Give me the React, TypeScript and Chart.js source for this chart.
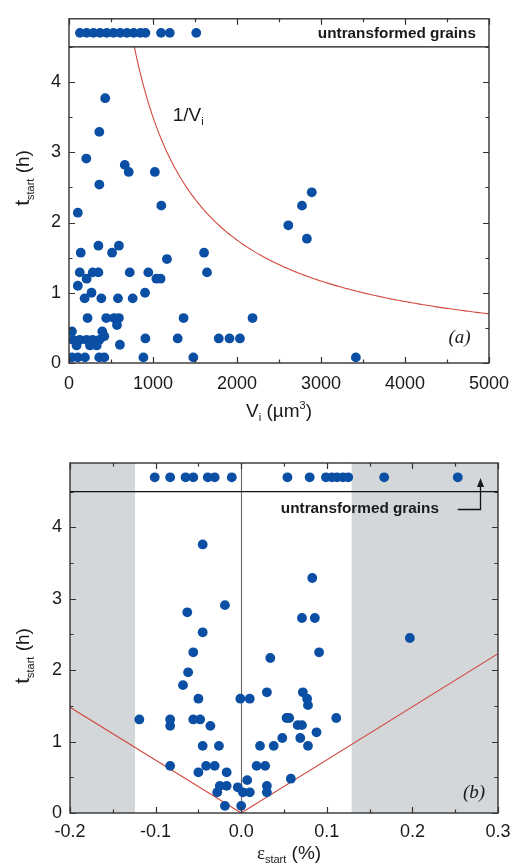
import React, { useEffect, useRef } from "react";
import { Chart, registerables } from "chart.js";

Chart.register(...registerables);

// ---------- panel (a): grain volume vs. start time ----------
const volumeV: number[] = [
  431, 361, 206, 664, 711, 1022, 361, 105, 1099, 140, 350, 513, 594, 1166, 1608, 1643,
  128, 283, 350, 210, 105, 268, 723, 944, 1040, 1090, 905, 186, 385, 583, 758, 221,
  443, 536, 594, 571, 1364, 2185, 35, 396, 47, 128, 210, 280, 361, 420, 90, 250,
  330, 606, 909, 1294, 1783, 1911, 2035, 35, 105, 190, 360, 420, 886, 1480, 3415, 2890,
  2774, 2611, 2832,
];
const volumeT: number[] = [
  3.77, 3.29, 2.91, 2.82, 2.72, 2.72, 2.54, 2.14, 2.24, 1.57, 1.67, 1.57, 1.67, 1.48, 1.57, 1.29,
  1.29, 1.29, 1.29, 1.2, 1.1, 1.0, 1.29, 1.29, 1.2, 1.2, 1.0, 0.92, 0.92, 0.92, 0.92, 0.64,
  0.64, 0.64, 0.64, 0.54, 0.64, 0.64, 0.45, 0.45, 0.33, 0.33, 0.33, 0.33, 0.33, 0.38, 0.25, 0.25,
  0.25, 0.26, 0.35, 0.35, 0.35, 0.35, 0.35, 0.08, 0.08, 0.08, 0.08, 0.08, 0.08, 0.08, 0.08, 2.43,
  2.24, 1.96, 1.77,
];
// grains that never transformed, plotted in the strip above t = 4.5 h
const volumeUntransformed: number[] = [
  130, 210, 290, 370, 450, 530, 610, 690, 770, 850, 910, 1096, 1200, 1515,
];
const volumeTicks: number[] = [0, 1000, 2000, 3000, 4000, 5000];
// 1/V_i guide curve: t = INVERSE_C / V
const INVERSE_C = 3500;

// ---------- panel (b): strain vs. start time ----------
const strainE: number[] = [
  -0.045, -0.063, -0.019, -0.045, -0.056, 0.083, 0.071, 0.086, 0.197, 0.091, 0.034, -0.062,
  -0.068, -0.05, -0.119, -0.083, -0.083, -0.056, -0.048, -0.036, -0.045, -0.026, -0.083, -0.05,
  -0.041, -0.031, -0.017, -0.025, -0.017, -0.028, -0.019, 0.0, -0.004, 0.007, 0.002, 0.01,
  -0.001, 0.01, 0.022, 0.018, 0.028, 0.03, 0.072, 0.077, 0.078, 0.053, 0.056, 0.066,
  0.071, 0.088, 0.111, 0.048, 0.069, 0.038, 0.078, 0.058, 0.03, 0.03,
];
const strainT: number[] = [
  3.76, 2.81, 2.91, 2.53, 2.25, 3.29, 2.73, 2.73, 2.45, 2.25, 2.17, 1.97,
  1.79, 1.6, 1.31, 1.31, 1.22, 1.31, 1.31, 1.22, 0.94, 0.94, 0.66, 0.57,
  0.66, 0.66, 0.57, 0.38, 0.38, 0.29, 0.1, 0.1, 0.36, 0.46, 0.29, 0.29,
  1.6, 1.6, 0.94, 0.66, 0.66, 1.69, 1.69, 1.6, 1.51, 1.33, 1.33, 1.23,
  1.23, 1.13, 1.33, 1.05, 1.05, 0.94, 0.94, 0.48, 0.38, 0.29,
];
const strainUntransformed: number[] = [
  -0.101, -0.083, -0.065, -0.056, -0.039, -0.031, -0.011, 0.054, 0.08, 0.099, 0.106, 0.112,
  0.119, 0.125, 0.167, 0.253,
];
const strainTicks: number[] = [-0.2, -0.1, 0.0, 0.1, 0.2, 0.3];
const strainTickLabels: string[] = ["-0.2", "-0.1", "0.0", "0.1", "0.2", "0.3"];
// V-shaped boundary line
const boundaryE: number[] = [-0.2, 0.0, 0.3];
const boundaryT: number[] = [1.48, 0.0, 2.23];
// shaded strain ranges
const shadedRanges: [number, number][] = [
  [-0.2, -0.124],
  [0.129, 0.3],
];

// ---------- shared ----------
const timeTicks: number[] = [0, 1, 2, 3, 4];
const UNTRANSFORMED_T = 4.7;
const STRIP_T = 4.5;
const T_MAX = 4.9;

const DOT = "#0b4fa4";
const RED = "#d2493f";
const AXIS = "#333333";
const SANS = "'Liberation Sans', Arial, sans-serif";
const SERIF = "'Liberation Serif', 'Times New Roman', serif";

type Seg = { text: string; font: string; dy?: number };

function drawSegments(ctx: CanvasRenderingContext2D, segs: Seg[], x: number, y: number, align: "left" | "center" | "right") {
  let total = 0;
  const widths = segs.map((s) => {
    ctx.font = s.font;
    const w = ctx.measureText(s.text).width;
    total += w;
    return w;
  });
  let cx = align === "left" ? x : align === "center" ? x - total / 2 : x - total;
  ctx.textBaseline = "alphabetic";
  ctx.textAlign = "left";
  segs.forEach((s, i) => {
    ctx.font = s.font;
    ctx.fillText(s.text, cx, y + (s.dy || 0));
    cx += widths[i];
  });
}

function framePlugin(xMin: number, xMax: number, xStep: number) {
  return {
    id: "frameTicks",
    afterDatasetsDraw(chart: any) {
      const { ctx, chartArea, scales } = chart;
      const { left, right, top, bottom } = chartArea;
      const x = scales.x;
      const y = scales.y;
      ctx.save();
      ctx.strokeStyle = AXIS;
      ctx.lineWidth = 1.4;
      ctx.strokeRect(left, top, right - left, bottom - top);
      // divider of the untransformed strip
      const ys = y.getPixelForValue(STRIP_T);
      ctx.strokeStyle = "#111";
      ctx.lineWidth = 1.2;
      ctx.beginPath();
      ctx.moveTo(left, ys);
      ctx.lineTo(right, ys);
      ctx.stroke();
      // inward tick marks
      ctx.strokeStyle = AXIS;
      ctx.lineWidth = 1.2;
      ctx.beginPath();
      const nX = Math.round((xMax - xMin) / (xStep / 2));
      for (let i = 0; i <= nX; i++) {
        const v = xMin + (i * xStep) / 2;
        const px = Math.round(x.getPixelForValue(v)) + 0.5;
        const len = i % 2 === 0 ? 6 : 3.5;
        ctx.moveTo(px, bottom);
        ctx.lineTo(px, bottom - len);
        ctx.moveTo(px, top);
        ctx.lineTo(px, top + len);
      }
      for (let i = 0; i <= 9; i++) {
        const v = i * 0.5;
        const py = Math.round(y.getPixelForValue(v)) + 0.5;
        const len = i % 2 === 0 ? 6 : 3.5;
        ctx.moveTo(left, py);
        ctx.lineTo(left + len, py);
        ctx.moveTo(right, py);
        ctx.lineTo(right - len, py);
      }
      ctx.stroke();
      ctx.restore();
    },
  };
}

function timeTitle(ctx: CanvasRenderingContext2D, cx: number, cy: number) {
  ctx.save();
  ctx.fillStyle = "#1a1a1a";
  ctx.translate(cx, cy);
  ctx.rotate(-Math.PI / 2);
  drawSegments(
    ctx,
    [
      { text: "t", font: `21px ${SANS}` },
      { text: "start", font: `11px ${SANS}`, dy: 5 },
      { text: " (h)", font: `19px ${SANS}` },
    ],
    0,
    7,
    "center"
  );
  ctx.restore();
}

const basePoint = {
  pointRadius: 4.9,
  pointHoverRadius: 4.9,
  pointBorderWidth: 0,
  backgroundColor: DOT,
  borderColor: DOT,
  showLine: false,
};

function buildVolumeChart(canvas: HTMLCanvasElement) {
  const main = volumeV.map((v, i) => ({ x: v, y: volumeT[i] }));
  const top = volumeUntransformed.map((v) => ({ x: v, y: UNTRANSFORMED_T }));
  const curve: { x: number; y: number }[] = [];
  for (let v = INVERSE_C / STRIP_T; v <= 5000; v += 20) curve.push({ x: v, y: INVERSE_C / v });
  curve.push({ x: 5000, y: INVERSE_C / 5000 });

  const labels = {
    id: "volumeLabels",
    afterDraw(chart: any) {
      const { ctx, scales } = chart;
      const x = scales.x;
      const y = scales.y;
      ctx.save();
      ctx.fillStyle = "#1a1a1a";
      drawSegments(ctx, [{ text: "untransformed grains", font: `bold 15.3px ${SANS}` }], x.getPixelForValue(4845), y.getPixelForValue(4.62), "right");
      drawSegments(
        ctx,
        [
          { text: "1/V", font: `19px ${SANS}` },
          { text: "i", font: `11px ${SANS}`, dy: 4 },
        ],
        x.getPixelForValue(1235),
        y.getPixelForValue(3.45),
        "left"
      );
      drawSegments(ctx, [{ text: "(a)", font: `italic 19px ${SERIF}` }], x.getPixelForValue(4650), y.getPixelForValue(0.28), "center");
      // axis titles
      timeTitle(ctx, 22, 178);
      drawSegments(
        ctx,
        [
          { text: "V", font: `19px ${SANS}` },
          { text: "i", font: `11px ${SANS}`, dy: 4 },
          { text: " (\u00b5m", font: `19px ${SANS}` },
          { text: "3", font: `11px ${SANS}`, dy: -8 },
          { text: ")", font: `19px ${SANS}` },
        ],
        279,
        417,
        "center"
      );
      ctx.restore();
    },
  };

  return new Chart(canvas, {
    type: "scatter",
    data: {
      datasets: [
        { ...basePoint, data: main },
        { ...basePoint, data: top },
        {
          data: curve,
          showLine: true,
          borderColor: RED,
          borderWidth: 1.1,
          pointRadius: 0,
          pointHoverRadius: 0,
          fill: false,
        },
      ],
    },
    options: {
      responsive: false,
      animation: false,
      events: [],
      layout: { padding: { left: 0, right: 21, top: 15, bottom: 0 } },
      plugins: { legend: { display: false }, tooltip: { enabled: false } },
      scales: {
        x: {
          type: "linear",
          min: 0,
          max: 5000,
          grid: { display: false, drawTicks: false },
          border: { display: false },
          afterBuildTicks: (s: any) => {
            s.ticks = volumeTicks.map((v) => ({ value: v }));
          },
          afterFit: (s: any) => {
            s.height = 69;
          },
          ticks: { padding: 10, color: "#1a1a1a", font: { family: SANS, size: 18 }, maxRotation: 0, autoSkip: false, callback: (v: any) => String(v) },
        },
        y: {
          type: "linear",
          min: 0,
          max: T_MAX,
          grid: { display: false, drawTicks: false },
          border: { display: false },
          afterBuildTicks: (s: any) => {
            s.ticks = timeTicks.map((v) => ({ value: v }));
          },
          afterFit: (s: any) => {
            s.width = 69;
          },
          ticks: { padding: 8, color: "#1a1a1a", font: { family: SANS, size: 18 }, callback: (v: any) => String(v) },
        },
      },
    },
    plugins: [framePlugin(0, 5000, 1000), labels],
  } as any);
}

function buildStrainChart(canvas: HTMLCanvasElement) {
  const main = strainE.map((e, i) => ({ x: e, y: strainT[i] }));
  const top = strainUntransformed.map((e) => ({ x: e, y: UNTRANSFORMED_T }));
  const boundary = boundaryE.map((e, i) => ({ x: e, y: boundaryT[i] }));

  const background = {
    id: "strainBackground",
    beforeDatasetsDraw(chart: any) {
      const { ctx, chartArea, scales } = chart;
      const x = scales.x;
      ctx.save();
      ctx.fillStyle = "#d3d7da";
      shadedRanges.forEach(([a, b]) => {
        const x0 = x.getPixelForValue(a);
        const x1 = x.getPixelForValue(b);
        ctx.fillRect(x0, chartArea.top, x1 - x0, chartArea.bottom - chartArea.top);
      });
      const x0 = Math.round(x.getPixelForValue(0)) + 0.5;
      ctx.strokeStyle = "#666";
      ctx.lineWidth = 1.1;
      ctx.beginPath();
      ctx.moveTo(x0, chartArea.top);
      ctx.lineTo(x0, chartArea.bottom);
      ctx.stroke();
      ctx.restore();
    },
  };

  const labels = {
    id: "strainLabels",
    afterDraw(chart: any) {
      const { ctx, scales } = chart;
      const x = scales.x;
      const y = scales.y;
      ctx.save();
      ctx.fillStyle = "#1a1a1a";
      drawSegments(ctx, [{ text: "untransformed grains", font: `bold 15.3px ${SANS}` }], x.getPixelForValue(0.231), y.getPixelForValue(4.2), "right");
      // arrow pointing to the untransformed strip
      const ax0 = x.getPixelForValue(0.253);
      const ax1 = Math.round(x.getPixelForValue(0.279)) + 0.5;
      const ay = Math.round(y.getPixelForValue(4.26)) + 0.5;
      const tip = y.getPixelForValue(4.69);
      ctx.strokeStyle = "#111";
      ctx.lineWidth = 1.3;
      ctx.beginPath();
      ctx.moveTo(ax0, ay);
      ctx.lineTo(ax1, ay);
      ctx.lineTo(ax1, tip + 6);
      ctx.stroke();
      ctx.beginPath();
      ctx.moveTo(ax1, tip);
      ctx.lineTo(ax1 - 3.5, tip + 9);
      ctx.lineTo(ax1 + 3.5, tip + 9);
      ctx.closePath();
      ctx.fill();
      drawSegments(ctx, [{ text: "(b)", font: `italic 19px ${SERIF}` }], x.getPixelForValue(0.272), y.getPixelForValue(0.21), "center");
      // axis titles
      timeTitle(ctx, 22, 224);
      drawSegments(
        ctx,
        [
          { text: "\u03b5", font: `19px ${SERIF}` },
          { text: "start", font: `11px ${SANS}`, dy: 4 },
          { text: " (%)", font: `19px ${SANS}` },
        ],
        289,
        427,
        "center"
      );
      ctx.restore();
    },
  };

  return new Chart(canvas, {
    type: "scatter",
    data: {
      datasets: [
        { ...basePoint, data: main },
        { ...basePoint, data: top },
        {
          data: boundary,
          showLine: true,
          borderColor: RED,
          borderWidth: 1.1,
          pointRadius: 0,
          pointHoverRadius: 0,
          fill: false,
        },
      ],
    },
    options: {
      responsive: false,
      animation: false,
      events: [],
      layout: { padding: { left: 0, right: 21, top: 31, bottom: 0 } },
      plugins: { legend: { display: false }, tooltip: { enabled: false } },
      scales: {
        x: {
          type: "linear",
          min: -0.2,
          max: 0.3,
          grid: { display: false, drawTicks: false },
          border: { display: false },
          afterBuildTicks: (s: any) => {
            s.ticks = strainTicks.map((v) => ({ value: v }));
          },
          afterFit: (s: any) => {
            s.height = 52;
          },
          ticks: {
            padding: 8,
            color: "#1a1a1a",
            font: { family: SANS, size: 18 },
            maxRotation: 0,
            autoSkip: false,
            callback: (v: any) => {
              const i = strainTicks.findIndex((t) => Math.abs(t - Number(v)) < 1e-9);
              return i >= 0 ? strainTickLabels[i] : "";
            },
          },
        },
        y: {
          type: "linear",
          min: 0,
          max: T_MAX,
          grid: { display: false, drawTicks: false },
          border: { display: false },
          afterBuildTicks: (s: any) => {
            s.ticks = timeTicks.map((v) => ({ value: v }));
          },
          afterFit: (s: any) => {
            s.width = 70;
          },
          ticks: { padding: 8, color: "#1a1a1a", font: { family: SANS, size: 18 }, callback: (v: any) => String(v) },
        },
      },
    },
    plugins: [background, framePlugin(-0.2, 0.3, 0.1), labels],
  } as any);
}

export default function App() {
  const topRef = useRef<HTMLCanvasElement | null>(null);
  const bottomRef = useRef<HTMLCanvasElement | null>(null);

  useEffect(() => {
    if (!topRef.current || !bottomRef.current) return;
    const a = buildVolumeChart(topRef.current);
    const b = buildStrainChart(bottomRef.current);
    return () => {
      a.destroy();
      b.destroy();
    };
  }, []);

  return (
    <div style={{ position: "absolute", left: 0, top: 0, width: 519, height: 865, background: "#fff" }}>
      <canvas ref={topRef} width={519} height={432} style={{ position: "absolute", left: 0, top: 0, width: 519, height: 432 }} />
      <canvas ref={bottomRef} width={519} height={433} style={{ position: "absolute", left: 0, top: 432, width: 519, height: 433 }} />
    </div>
  );
}
